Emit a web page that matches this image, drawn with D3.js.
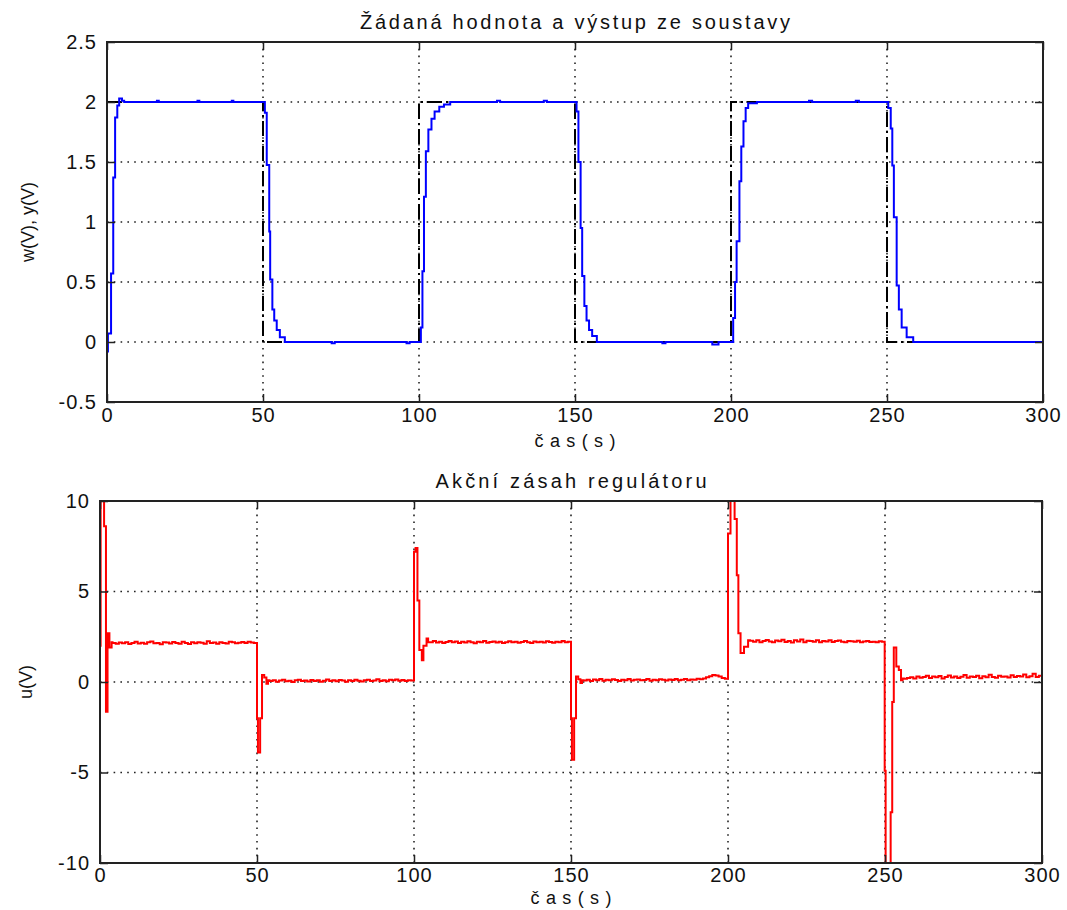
<!DOCTYPE html>
<html lang="cs">
<head>
<meta charset="UTF-8">
<title>Žádaná hodnota a výstup ze soustavy</title>
<style>
  body { margin: 0; background: #fff; }
  text { font-family: "Liberation Sans", Arial, sans-serif; fill: #111; }
  .tick text { font-size: 20px; letter-spacing: 1px; }
  .domain { display: none; }
  .tick line { stroke: #222; stroke-width: 1.5; }
</style>
</head>
<body>
<svg id="chart" width="1067" height="910"></svg>
<script src="https://cdn.jsdelivr.net/npm/d3@7"></script>
<script>
// ---- data ----
var xTicks = [0, 50, 100, 150, 200, 250, 300];
var yTicksTop = [-0.5, 0, 0.5, 1, 1.5, 2, 2.5];
var yTicksBottom = [-10, -5, 0, 5, 10];

// setpoint w(t), step after
var setpoint = [[0, 2], [50, 0], [100, 2], [150, 0], [200, 2], [250, 0], [300, 1]];

// output y(t), step after
var output = [
  [0, -0.08], [0.3, 0.07], [1.3, 0.57], [2.0, 1.37], [2.6, 1.87], [3.3, 1.97], [3.9, 2.03], [4.8, 2.01], [5.5, 2.0],
  [16, 2.01], [16.6, 2.0], [29, 2.01], [29.6, 2.0], [40, 2.01], [40.5, 2.0],
  [50.6, 1.91], [51.2, 1.475], [52, 0.92], [52.3, 0.52], [53, 0.27], [53.6, 0.18], [54.4, 0.1], [55.4, 0.04], [57, 0.0],
  [72, -0.01], [73, 0], [96, -0.01], [97, 0],
  [100.6, 0.12], [101.1, 0.59], [101.6, 1.21], [102.2, 1.59], [103, 1.77], [104, 1.86], [105, 1.92], [106.5, 1.96], [108, 1.98], [110, 2.0],
  [125, 2.01], [126, 2.0], [140, 2.01], [141, 2.0],
  [150.5, 1.92], [151.1, 1.5], [151.8, 0.95], [152.3, 0.55], [153, 0.3], [153.7, 0.18], [154.5, 0.1], [155.5, 0.05], [157, 0],
  [178, -0.01], [179, 0], [194, -0.02], [196, 0],
  [200.7, 0.2], [201.3, 0.5], [201.8, 0.84], [202.7, 1.34], [203.3, 1.63], [204, 1.84], [204.7, 1.95], [205.5, 1.99], [208.3, 2.0],
  [225, 2.01], [226, 2.0], [240, 2.01], [241, 2.0],
  [250.4, 1.95], [251.2, 1.78], [251.7, 1.47], [252.2, 1.04], [253.1, 0.47], [253.8, 0.27], [254.7, 0.12], [256.3, 0.04], [258.4, 0],
  [300, 0]
];

// control action u(t): transients after each setpoint change
var uStep0   = [[0, 2.0], [0.2, 12], [1.3, 8.6], [1.9, -1.64], [2.4, 2.7], [3.0, 1.9], [3.7, 2.2]];
var uStep50  = [[50, -2.0], [50.3, -3.9], [51.0, -2.0], [51.6, 0.38], [52.3, 0.25], [53, -0.1], [53.5, 0.1]];
var uStep100 = [[100, 7.2], [100.5, 7.4], [101.1, 4.5], [101.7, 1.77], [102.5, 1.2], [103, 2.0], [104, 2.4], [104.5, 2.2]];
var uStep150 = [[150, -2.0], [150.3, -4.3], [151.0, -2.0], [151.6, 0.3], [152.3, 0.15], [153, -0.05], [153.5, 0.1]];
var uStep200 = [[200, 8.2], [200.8, 12], [202.1, 9.0], [202.8, 5.9], [203.3, 2.7], [204, 1.6], [205.1, 1.95], [206.4, 2.3]];
var uStep250 = [[249.9, -4.9], [250.2, -12], [251.8, -7.2], [252.3, -1.1], [252.8, 1.9], [253.6, 0.85], [254.4, 0.66], [255.1, 0.1], [255.6, 0.2]];

// control action u(t): noisy steady parts, one sample per second from the start time
var uHold = [
  { start: 4, values: [2.15,2.12,2.18,2.14,2.2,2.1,2.16,2.22,2.13,2.17,2.11,2.19,2.24,2.14,2.16,2.09,2.2,2.18,2.13,2.21,2.15,2.12,2.23,2.16,2.1,2.19,2.14,2.2,2.17,2.12,2.25,2.15,2.18,2.11,2.2,2.16,2.13,2.22,2.19,2.14,2.17,2.21,2.15,2.23,2.18,2.16] },
  { start: 54, values: [0.05,0.1,0.02,0.08,0.12,0.04,0.07,0.0,0.09,0.13,0.05,0.08,0.03,0.11,0.06,0.1,0.02,0.07,0.14,0.05,0.09,0.04,0.11,0.08,0.01,0.1,0.06,0.13,0.07,0.03,0.09,0.12,0.05,0.08,0.15,0.06,0.1,0.04,0.12,0.09,0.14,0.07,0.11,0.05,0.09,0.08] },
  { start: 105, values: [2.2,2.26,2.18,2.23,2.15,2.21,2.27,2.19,2.24,2.16,2.22,2.18,2.25,2.2,2.14,2.23,2.19,2.26,2.17,2.21,2.24,2.18,2.22,2.15,2.2,2.25,2.19,2.23,2.17,2.21,2.26,2.2,2.16,2.24,2.19,2.22,2.18,2.25,2.21,2.17,2.23,2.2,2.26,2.19,2.22] },
  { start: 154, values: [0.08,0.12,0.05,0.14,0.1,0.16,0.07,0.12,0.09,0.15,0.11,0.06,0.13,0.1,0.17,0.08,0.12,0.14,0.09,0.11,0.16,0.07,0.13,0.1,0.15,0.12,0.08,0.14,0.11,0.17,0.09,0.13,0.16,0.1,0.14,0.12,0.18,0.15,0.2,0.26,0.32,0.38,0.36,0.3,0.22,0.18] },
  { start: 207, values: [2.28,2.22,2.3,2.19,2.26,2.32,2.24,2.2,2.29,2.25,2.33,2.21,2.27,2.18,2.3,2.24,2.35,2.2,2.28,2.26,2.22,2.31,2.19,2.27,2.24,2.3,2.21,2.26,2.29,2.23,2.2,2.27,2.25,2.22,2.28,2.19,2.24,2.26,2.21,2.23,2.2,2.25,2.22] },
  { start: 256, values: [0.18,0.22,0.26,0.2,0.3,0.24,0.28,0.35,0.22,0.3,0.26,0.33,0.2,0.28,0.36,0.25,0.31,0.22,0.29,0.38,0.24,0.3,0.27,0.34,0.21,0.32,0.26,0.4,0.28,0.23,0.35,0.29,0.31,0.25,0.37,0.27,0.33,0.3,0.42,0.26,0.32,0.45,0.28,0.34,0.3] }
];

// build u series in time order
var control = [];
uHold.forEach(function(h) {
  h.values.forEach(function(v, i) { control.push([h.start + i, v]); });
});
control = control.concat(uStep0, uStep50, uStep100, uStep150, uStep200, uStep250);
control.sort(function(a, b) { return a[0] - b[0]; });

var svg = d3.select("#chart");

function panel(opt) {
  var x = d3.scaleLinear().domain([0, 300]).range([opt.left, opt.right]);
  var y = d3.scaleLinear().domain(opt.yDomain).range([opt.bottom, opt.top]);
  var g = svg.append("g");
  var id = "clip" + opt.name;

  svg.append("clipPath").attr("id", id).append("rect")
      .attr("x", opt.left).attr("y", opt.top)
      .attr("width", opt.right - opt.left).attr("height", opt.bottom - opt.top);

  // dotted grid at interior ticks
  var grid = g.append("g")
      .attr("stroke", "#222").attr("stroke-width", 1.6)
      .attr("stroke-dasharray", "1.6,5.2");
  grid.selectAll(".gx").data(xTicks.slice(1, -1)).enter().append("line")
      .attr("x1", x).attr("x2", x).attr("y1", opt.top).attr("y2", opt.bottom);
  grid.selectAll(".gy").data(opt.yTicks.slice(1, -1)).enter().append("line")
      .attr("x1", opt.left).attr("x2", opt.right).attr("y1", y).attr("y2", y);

  // data lines
  var line = d3.line().curve(d3.curveStepAfter)
      .x(function(d) { return x(d[0]); })
      .y(function(d) { return y(d[1]); });
  var plot = g.append("g").attr("clip-path", "url(#" + id + ")");
  opt.series.forEach(function(s) {
    plot.append("path").datum(s.data)
        .attr("d", line)
        .attr("fill", "none")
        .attr("stroke", s.color)
        .attr("stroke-width", s.width)
        .attr("stroke-dasharray", s.dash || null);
  });

  // axes, ticks pointing inward, on all four sides
  g.append("g").attr("transform", "translate(0," + opt.bottom + ")")
      .call(d3.axisBottom(x).tickValues(xTicks).tickSize(-8).tickPadding(opt.xPad).tickFormat(d3.format("d")));
  g.append("g").attr("transform", "translate(0," + opt.top + ")")
      .call(d3.axisTop(x).tickValues(xTicks).tickSize(-8).tickFormat(""));
  g.append("g").attr("transform", "translate(" + opt.left + ",0)")
      .call(d3.axisLeft(y).tickValues(opt.yTicks).tickSize(-8).tickPadding(10).tickFormat(function(d) { return String(d); }));
  g.append("g").attr("transform", "translate(" + opt.right + ",0)")
      .call(d3.axisRight(y).tickValues(opt.yTicks).tickSize(-8).tickFormat(""));
  g.selectAll(".tick text").attr("fill", "#111");

  g.append("rect")
      .attr("x", opt.left).attr("y", opt.top)
      .attr("width", opt.right - opt.left).attr("height", opt.bottom - opt.top)
      .attr("fill", "none").attr("stroke", "#222").attr("stroke-width", 2);

  var cx = (opt.left + opt.right) / 2;
  g.append("text").attr("x", cx).attr("y", opt.top - 13)
      .attr("text-anchor", "middle").style("font-size", "20px")
      .attr("textLength", opt.titleWidth).attr("lengthAdjust", "spacing")
      .text(opt.title);
  g.append("text").attr("x", cx).attr("y", opt.bottom + opt.xLabelDy)
      .attr("text-anchor", "middle").style("font-size", "18px")
      .attr("textLength", 81).attr("lengthAdjust", "spacing")
      .text("čas(s)");
  var ym = (opt.top + opt.bottom) / 2;
  g.append("text")
      .attr("transform", "translate(" + opt.yLabelX + "," + ym + ") rotate(-90)")
      .attr("text-anchor", "middle").style("font-size", "18px")
      .text(opt.yLabel);
}

panel({
  name: "top", left: 107, right: 1043, top: 42, bottom: 402,
  yDomain: [-0.5, 2.5], yTicks: yTicksTop,
  title: "Žádaná hodnota a výstup ze soustavy", titleWidth: 430,
  yLabel: "w(V), y(V)", yLabelX: 34, xPad: 6, xLabelDy: 45,
  series: [
    { data: setpoint, color: "#000", width: 2, dash: "15,4,2,4" },
    { data: output, color: "#0000ff", width: 2 }
  ]
});

panel({
  name: "bottom", left: 100, right: 1042, top: 501, bottom: 863,
  yDomain: [-10, 10], yTicks: yTicksBottom,
  title: "Akční zásah regulátoru", titleWidth: 271,
  yLabel: "u(V)", yLabelX: 32, xPad: 5, xLabelDy: 41,
  series: [
    { data: control, color: "#ff0000", width: 2 }
  ]
});
</script>
</body>
</html>
